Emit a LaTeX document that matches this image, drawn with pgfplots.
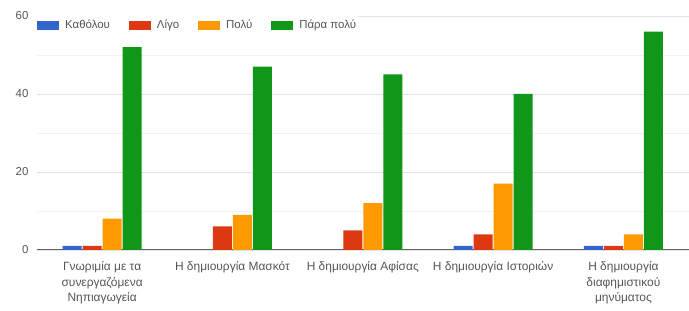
\documentclass[border=0pt]{standalone}
\usepackage{pgfplots}
\pgfplotsset{compat=1.18}
\usepackage{fontspec}
\setmainfont{Liberation Sans}
\definecolor{cblue}{HTML}{3366CC}
\definecolor{cred}{HTML}{DC3912}
\definecolor{corange}{HTML}{FF9900}
\definecolor{cgreen}{HTML}{109618}
\definecolor{textgray}{HTML}{555555}
\begin{document}
\begin{tikzpicture}
\begin{axis}[
  scale only axis, width=652bp, height=234bp,
  ybar=1bp, bar width=19bp,
  xmin=-0.5, xmax=4.5, ymin=0, ymax=60,
  xtick={0,1,2,3,4},
  xticklabels={{Γνωριμία με τα\\συνεργαζόμενα\\Νηπιαγωγεία},{Η δημιουργία Μασκότ},{Η δημιουργία Αφίσας},{Η δημιουργία Ιστοριών},{Η δημιουργία\\διαφημιστικού\\μηνύματος}},
  xticklabel style={align=center, font=\fontsize{12}{15.5}\selectfont, text=textgray, yshift=-4bp},
  yticklabel style={font=\fontsize{11.5}{12}\selectfont, text=textgray, xshift=-5bp},
  /pgf/number format/assume math mode=true,
  ytick={0,20,40,60}, minor ytick={10,30,50},
  ymajorgrids, yminorgrids,
  major grid style={gray!22},
  minor grid style={gray!10},
  axis x line*=bottom, axis y line*=left,
  x axis line style={gray!80!black, line width=0.8pt},
  y axis line style={draw=none},
  tick style={draw=none},
  legend style={at={(0,1)}, anchor=north west, legend columns=-1, draw=none, fill=white,
    font=\fontsize{11.5}{13}\selectfont, text=textgray, inner xsep=0pt, inner ysep=2pt,
    /tikz/every odd column/.append style={column sep=4bp},
    /tikz/every even column/.append style={column sep=17bp}},
  legend image code/.code={\fill[#1] (0bp,-4.5bp) rectangle (22bp,4.5bp);},
]
\addplot[fill=cblue, draw=none] coordinates {(0,1) (1,0) (2,0) (3,1) (4,1)};
\addplot[fill=cred, draw=none] coordinates {(0,1) (1,6) (2,5) (3,4) (4,1)};
\addplot[fill=corange, draw=none] coordinates {(0,8) (1,9) (2,12) (3,17) (4,4)};
\addplot[fill=cgreen, draw=none] coordinates {(0,52) (1,47) (2,45) (3,40) (4,56)};
\legend{Καθόλου, Λίγο, Πολύ, Πάρα πολύ}
\end{axis}
\path[use as bounding box] ([xshift=-37bp,yshift=-61bp]current axis.south west) rectangle ([yshift=16bp]current axis.north east);
\end{tikzpicture}
\end{document}
